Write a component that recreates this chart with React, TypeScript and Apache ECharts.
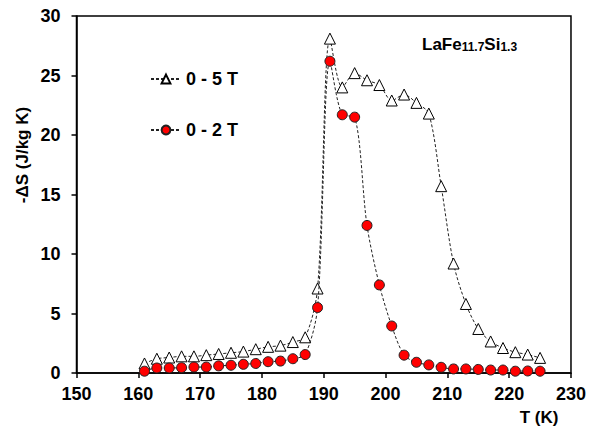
import React, { useEffect, useRef } from "react";
import * as echarts from "echarts";

// Temperature points (K), every 2 K from 161 to 225
const temperatures = [
  161, 163, 165, 167, 169, 171, 173, 175, 177, 179, 181, 183, 185, 187, 189,
  191, 193, 195, 197, 199, 201, 203, 205, 207, 209, 211, 213, 215, 217, 219,
  221, 223, 225,
];

// -ΔS (J/kg K) for a 0 - 5 T field change
const entropy5T = [
  0.8, 1.2, 1.3, 1.4, 1.4, 1.5, 1.6, 1.7, 1.8, 2.0, 2.2, 2.3, 2.6, 3.0, 7.1,
  28.1, 24.0, 25.2, 24.6, 24.2, 22.9, 23.4, 22.7, 21.8, 15.7, 9.2, 5.8, 3.7,
  2.65, 2.1, 1.75, 1.55, 1.27,
];

// -ΔS (J/kg K) for a 0 - 2 T field change
const entropy2T = [
  0.15, 0.42, 0.42, 0.45, 0.5, 0.5, 0.6, 0.65, 0.73, 0.8, 0.95, 1.0, 1.2, 1.55,
  5.5, 26.2, 21.7, 21.5, 12.4, 7.4, 3.95, 1.5, 0.9, 0.68, 0.48, 0.34, 0.34,
  0.3, 0.25, 0.25, 0.15, 0.17, 0.15,
];

const seriesNames = ["0 - 5 T", "0 - 2 T"];

const FONT = "'Liberation Sans', Arial, Helvetica, sans-serif";

export default function App() {
  const ref = useRef<HTMLDivElement>(null);

  useEffect(() => {
    if (!ref.current) return;
    const chart = echarts.init(ref.current, undefined, { renderer: "svg" });

    const pairs = (ys: number[]) => temperatures.map((t, i) => [t, ys[i]]);

    chart.setOption({
      animation: false,
      backgroundColor: "#fff",
      grid: {
        left: 76.5,
        top: 16,
        right: 18,
        bottom: 58,
        show: true,
        borderColor: "#000",
        borderWidth: 1.5,
        backgroundColor: "transparent",
      },
      xAxis: {
        type: "value",
        min: 150,
        max: 230,
        interval: 10,
        splitLine: { show: false },
        axisLine: { lineStyle: { color: "#000", width: 1.5 } },
        axisTick: { show: true, inside: false, length: 5, lineStyle: { color: "#000", width: 1.5 } },
        axisLabel: {
          color: "#000",
          fontFamily: FONT,
          fontWeight: "bold",
          fontSize: 18,
          margin: 12,
        },
      },
      yAxis: {
        type: "value",
        min: 0,
        max: 30,
        interval: 5,
        splitLine: { show: false },
        axisLine: { show: true, lineStyle: { color: "#000", width: 1.5 } },
        axisTick: { show: true, inside: false, length: 5, lineStyle: { color: "#000", width: 1.5 } },
        axisLabel: {
          color: "#000",
          fontFamily: FONT,
          fontWeight: "bold",
          fontSize: 18,
          margin: 16,
        },
      },
      legend: {
        orient: "vertical",
        left: 150,
        top: 70,
        padding: 0,
        itemWidth: 30,
        itemHeight: 11,
        itemGap: 33,
        data: seriesNames,
        textStyle: {
          color: "#000",
          fontFamily: FONT,
          fontWeight: "bold",
          fontSize: 18,
        },
      },
      series: [
        {
          name: seriesNames[0],
          type: "line",
          data: pairs(entropy5T),
          smooth: 0.3,
          symbol: "triangle",
          symbolSize: 11,
          lineStyle: { color: "#222", width: 1, type: [3, 2] },
          itemStyle: { color: "#fff", borderColor: "#000", borderWidth: 1 },
          z: 2,
        },
        {
          name: seriesNames[1],
          type: "line",
          data: pairs(entropy2T),
          smooth: 0.3,
          symbol: "circle",
          symbolSize: 10,
          lineStyle: { color: "#222", width: 1, type: [3, 2] },
          itemStyle: { color: "#ff0000", borderColor: "#222", borderWidth: 1 },
          z: 3,
        },
      ],
      graphic: [
        {
          type: "text",
          x: 22,
          y: 155,
          rotation: Math.PI / 2,
          style: {
            text: "-ΔS (J/kg K)",
            fill: "#000",
            font: `bold 17px ${FONT}`,
            align: "center",
            verticalAlign: "middle",
          },
        },
        {
          type: "text",
          x: 539,
          y: 417,
          style: {
            text: "T (K)",
            fill: "#000",
            font: `bold 17px ${FONT}`,
            align: "center",
            verticalAlign: "middle",
          },
        },
        {
          type: "text",
          x: 422,
          y: 44,
          style: {
            text: "{m|LaFe}{s|11.7}{m|Si}{s|1.3}",
            fill: "#000",
            verticalAlign: "middle",
            rich: {
              m: { fontFamily: FONT, fontWeight: "bold", fontSize: 17, fill: "#000" },
              s: {
                fontFamily: FONT,
                fontWeight: "bold",
                fontSize: 12,
                fill: "#000",
                verticalAlign: "bottom",
                padding: [6, 0, 0, 0],
              },
            },
          },
        },
      ],
    });

    return () => chart.dispose();
  }, []);

  return (
    <div
      ref={ref}
      style={{ position: "fixed", left: 0, top: 0, width: 589, height: 431 }}
    />
  );
}
